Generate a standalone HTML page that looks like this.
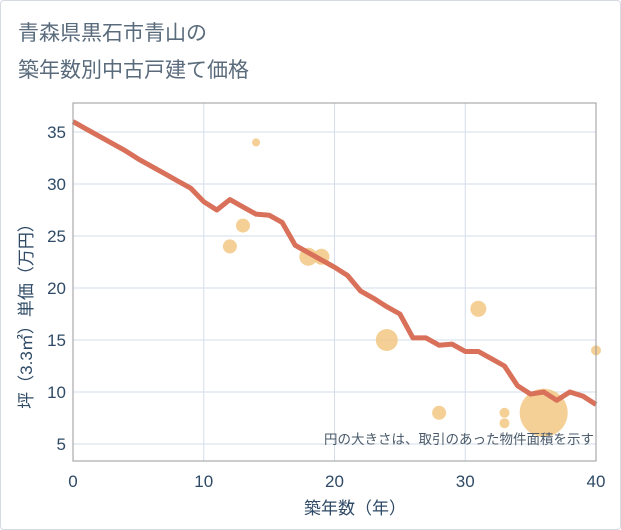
<!DOCTYPE html>
<html><head><meta charset="utf-8"><style>
body{margin:0;background:#fff;font-family:"Liberation Sans","Noto Sans CJK JP",sans-serif}
#card{position:absolute;left:0;top:0;width:619px;height:528px;border:1px solid #d5dae3;border-radius:4px}
svg{position:absolute;left:0;top:0}
</style></head><body>
<div id="card"></div>
<svg width="621" height="530" id="chart">
<text x="18" y="40" font-size="21" fill="#5a6b7c" font-family="Liberation Sans,Noto Sans CJK JP,sans-serif">青森県黒石市青山の</text>
<text x="18" y="77" font-size="21" fill="#5a6b7c" font-family="Liberation Sans,Noto Sans CJK JP,sans-serif">築年数別中古戸建て価格</text>
<g id="grid"></g><g id="marks"></g><g id="axes"></g>
</svg>
<script>
const xTicks=[0,10,20,30,40];
const yTicks=[5,10,15,20,25,30,35];
const lineYears=[0,1,2,3,4,5,6,7,8,9,10,11,12,13,14,15,16,17,18,19,20,21,22,23,24,25,26,27,28,29,30,31,32,33,34,35,36,37,38,39,40];
const linePrices=[36,35.3,34.6,33.9,33.2,32.4,31.7,31,30.3,29.6,28.3,27.5,28.5,27.8,27.1,27,26.3,24.1,23.4,22.7,22,21.2,19.7,19,18.2,17.5,15.2,15.2,14.5,14.6,13.9,13.9,13.2,12.5,10.6,9.8,10,9.2,10,9.6,8.8];
const bubbleYears=[14,12,13,18,19,24,28,31,33,33,36,40];
const bubblePrices=[34,24,26,23,23,15,8,18,8,7,8,14];
const bubbleRadii=[4,7,7,9,8,11,7,8,5,5,24,5];
const L=73,R=596,T=103,B=461;
const xs=v=>L+(v-0)/40*(R-L);
const ys=v=>132+(35-v)*10.4;
const NS="http://www.w3.org/2000/svg";
function mk(tag,attrs,parent){const e=document.createElementNS(NS,tag);for(const k in attrs)e.setAttribute(k,attrs[k]);document.getElementById(parent).appendChild(e);return e;}
xTicks.forEach(t=>{
 const g=mk('line',{x1:xs(t),x2:xs(t),y1:T,y2:B,stroke:'#d3deea','stroke-width':1},'grid');
 
 
 const tx=mk('text',{x:xs(t),y:487,'text-anchor':'middle','font-size':17,fill:'#2f4a66'},'axes');
 tx.textContent=t;
 
 
});
yTicks.forEach(t=>{
 const g=mk('line',{x1:L,x2:R,y1:ys(t),y2:ys(t),stroke:'#d3deea','stroke-width':1},'grid');
 
 
 const tx=mk('text',{x:66,y:ys(t)+6,'text-anchor':'end','font-size':17,fill:'#2f4a66'},'axes');
 tx.textContent=t;
 
 
});
bubbleYears.forEach((x,i)=>{
 const c=mk('circle',{cx:xs(x),cy:ys(bubblePrices[i]),r:bubbleRadii[i],fill:'#f3c47c','fill-opacity':0.8},'marks');
 
 
});
const p=mk('polyline',{points:lineYears.map((x,i)=>xs(x)+','+ys(linePrices[i])).join(' '),fill:'none',stroke:'#d9705a','stroke-width':5,'stroke-linejoin':'round'},'marks');


const fr=mk('rect',{x:L,y:T,width:R-L,height:B-T,fill:'none',stroke:'#999','stroke-width':1},'axes');


const note=mk('text',{x:594,y:444,'text-anchor':'end','font-size':13.5,fill:'#4a5a6a'},'axes');
note.textContent='円の大きさは、取引のあった物件面積を示す';


const xt=mk('text',{x:355,y:514,'text-anchor':'middle','font-size':17,fill:'#2f4a66'},'axes');
xt.textContent='築年数（年）';


const yt=mk('text',{x:0,y:0,'text-anchor':'middle','font-size':17,fill:'#2f4a66',transform:'translate(32,312) rotate(-90)'},'axes');
yt.textContent='坪（3.3㎡）単価（万円）';


</script>
</body></html>
